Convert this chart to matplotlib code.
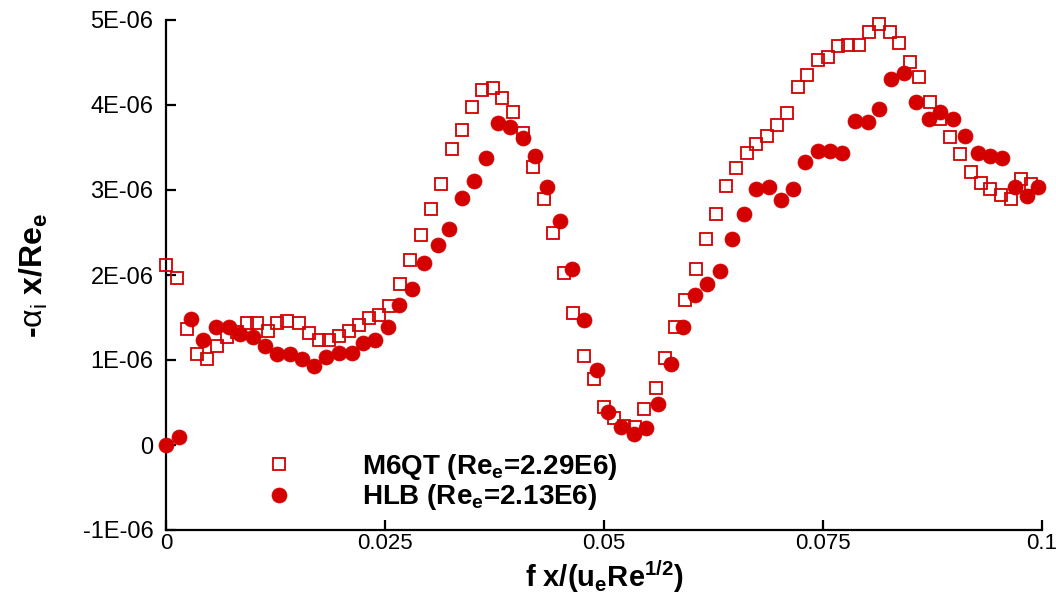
import matplotlib
matplotlib.use("Agg")
import matplotlib.pyplot as plt
from matplotlib import font_manager
from matplotlib.ticker import FuncFormatter, MultipleLocator

# M6QT computation (Re_e = 2.29E6): frequency parameter vs. growth rate
m6qt_f = [0.0, 1.29, 2.43, 3.57, 4.70, 5.86, 7.00, 8.10, 9.28, 10.4, 11.6, 12.7,
          13.85, 15.2, 16.3, 17.5, 18.6, 19.7, 20.9, 22.0, 23.2, 24.3, 25.5, 26.7,
          27.9, 29.1, 30.2, 31.4, 32.6, 33.8, 34.9, 36.1, 37.3, 38.4, 39.6, 40.8,
          41.9, 43.1, 44.2, 45.4, 46.5, 47.7, 48.9, 50.0, 51.1, 52.3, 53.5, 54.6,
          55.9, 57.0, 58.1, 59.3, 60.5, 61.6, 62.8, 63.9, 65.1, 66.3, 67.4, 68.6,
          69.8, 70.9, 72.1, 73.2, 74.4, 75.6, 76.7, 77.9, 79.1, 80.2, 81.4, 82.6,
          83.7, 84.9, 86.0, 87.2, 88.4, 89.5, 90.6, 91.9, 93.0, 94.1, 95.3, 96.5,
          97.6, 98.7]
m6qt_alpha = [2.12, 1.97, 1.36, 1.07, 1.01, 1.165, 1.27, 1.33, 1.44, 1.44, 1.345, 1.44,
              1.46, 1.44, 1.32, 1.24, 1.23, 1.28, 1.345, 1.41, 1.50, 1.53, 1.635, 1.89,
              2.18, 2.47, 2.78, 3.07, 3.48, 3.71, 3.98, 4.18, 4.20, 4.08, 3.92, 3.67,
              3.27, 2.90, 2.49, 2.02, 1.556, 1.047, 0.773, 0.45, 0.314, 0.22, 0.21, 0.42,
              0.667, 1.02, 1.39, 1.71, 2.07, 2.42, 2.72, 3.05, 3.26, 3.44, 3.54, 3.64,
              3.76, 3.91, 4.21, 4.35, 4.53, 4.56, 4.69, 4.71, 4.71, 4.86, 4.95, 4.86,
              4.73, 4.51, 4.33, 4.03, 3.83, 3.62, 3.42, 3.21, 3.08, 3.01, 2.94, 2.89,
              3.13, 3.07]

# HLB experiment (Re_e = 2.13E6)
hlb_f = [0.0, 1.45, 2.8, 4.26, 5.7, 7.15, 8.45, 9.9, 11.3, 12.7, 14.2, 15.5,
         16.9, 18.3, 19.7, 21.2, 22.5, 23.9, 25.3, 26.6, 28.1, 29.5, 31.0, 32.3,
         33.8, 35.2, 36.5, 37.9, 39.3, 40.7, 42.1, 43.5, 45.0, 46.3, 47.7, 49.2,
         50.5, 51.9, 53.4, 54.8, 56.2, 57.6, 59.0, 60.4, 61.8, 63.2, 64.6, 66.0,
         67.4, 68.8, 70.2, 71.6, 73.0, 74.4, 75.8, 77.2, 78.6, 80.1, 81.4, 82.8,
         84.2, 85.6, 87.1, 88.4, 89.8, 91.2, 92.7, 94.1, 95.4, 96.9, 98.3, 99.6]
hlb_alpha = [0.0, 0.098, 1.48, 1.24, 1.385, 1.385, 1.31, 1.27, 1.165, 1.07, 1.07, 1.01,
             0.93, 1.03, 1.085, 1.08, 1.20, 1.24, 1.39, 1.65, 1.84, 2.14, 2.35, 2.54,
             2.91, 3.11, 3.38, 3.79, 3.74, 3.61, 3.40, 3.03, 2.64, 2.07, 1.47, 0.88,
             0.39, 0.208, 0.126, 0.196, 0.486, 0.956, 1.39, 1.77, 1.90, 2.05, 2.42, 2.72,
             3.01, 3.04, 2.88, 3.01, 3.33, 3.46, 3.46, 3.44, 3.81, 3.80, 3.95, 4.31,
             4.38, 4.04, 3.84, 3.92, 3.83, 3.64, 3.44, 3.40, 3.38, 3.04, 2.93, 3.04]

series_labels = [r"M6QT (Re$_\mathbf{e}$=2.29E6)", r"HLB (Re$_\mathbf{e}$=2.13E6)"]
x_ticks = [0.0, 0.025, 0.05, 0.075, 0.1]
f_scale = 1e-3
alpha_scale = 1e-6

plt.rcParams["font.family"] = ["Liberation Sans", "DejaVu Sans"]
plt.rcParams["mathtext.fontset"] = "custom"
plt.rcParams["mathtext.rm"] = "Liberation Sans"
plt.rcParams["mathtext.it"] = "Liberation Sans"
plt.rcParams["mathtext.bf"] = "Liberation Sans:bold"

# narrow face for the frequency tick labels when it is available
installed = {f.name for f in font_manager.fontManager.ttflist}
if "Liberation Sans Narrow" in installed:
    xtick_family, xtick_size = "Liberation Sans Narrow", 19
else:
    xtick_family, xtick_size = "Liberation Sans", 16

red = "#d40000"

fig = plt.figure(figsize=(10.56, 5.96), dpi=100)
ax = fig.add_axes([166 / 1056, 1 - 530 / 596, 876 / 1056, 510 / 596])

ax.plot([v * f_scale for v in m6qt_f], [v * alpha_scale for v in m6qt_alpha],
        linestyle="none", marker="s", markersize=8, markerfacecolor="none",
        markeredgecolor=red, markeredgewidth=1.3, clip_on=False, zorder=3,
        label=series_labels[0])
ax.plot([v * f_scale for v in hlb_f], [v * alpha_scale for v in hlb_alpha],
        linestyle="none", marker="o", markersize=10.8, markerfacecolor=red,
        markeredgecolor=red, markeredgewidth=0.5, clip_on=False, zorder=4,
        label=series_labels[1])

ax.set_xlim(0, 0.1)
ax.set_ylim(-1e-6, 5e-6)
ax.set_xticks(x_ticks)
ax.yaxis.set_major_locator(MultipleLocator(1e-6))
ax.xaxis.set_major_formatter(FuncFormatter(lambda v, p: "%g" % v))
ax.yaxis.set_major_formatter(
    FuncFormatter(lambda v, p: "0" if abs(v) < 1e-12 else "%.0E" % v))

for side in ("top", "right"):
    ax.spines[side].set_visible(False)
for side in ("left", "bottom"):
    ax.spines[side].set_linewidth(1.6)

ax.tick_params(axis="both", direction="in", length=7, width=1.6, labelsize=17)
ax.tick_params(axis="y", pad=9)
ax.tick_params(axis="x", pad=2, labelsize=xtick_size)
for lab in ax.get_xticklabels():
    lab.set_family([xtick_family, "Liberation Sans"])

ax.set_xlabel(r"f x/(u$_\mathbf{e}$Re$^\mathbf{1/2}$)", fontsize=21, fontweight="bold")
ax.xaxis.set_label_coords(0.5, -0.055)
ax.xaxis.label.set_va("top")
ax.set_ylabel(r"-$\alpha_\mathrm{i}$ x/Re$_\mathbf{e}$", fontsize=23, fontweight="bold")
ax.yaxis.set_label_coords(-0.132, 0.5)

ax.legend(loc="center left", bbox_to_anchor=(0.0973, 0.094), frameon=False,
          prop={"size": 20, "weight": "bold"}, handlelength=2, handletextpad=2.0,
          borderpad=0, borderaxespad=0, labelspacing=0.02, numpoints=1)

fig.savefig("out.png", dpi=100)
